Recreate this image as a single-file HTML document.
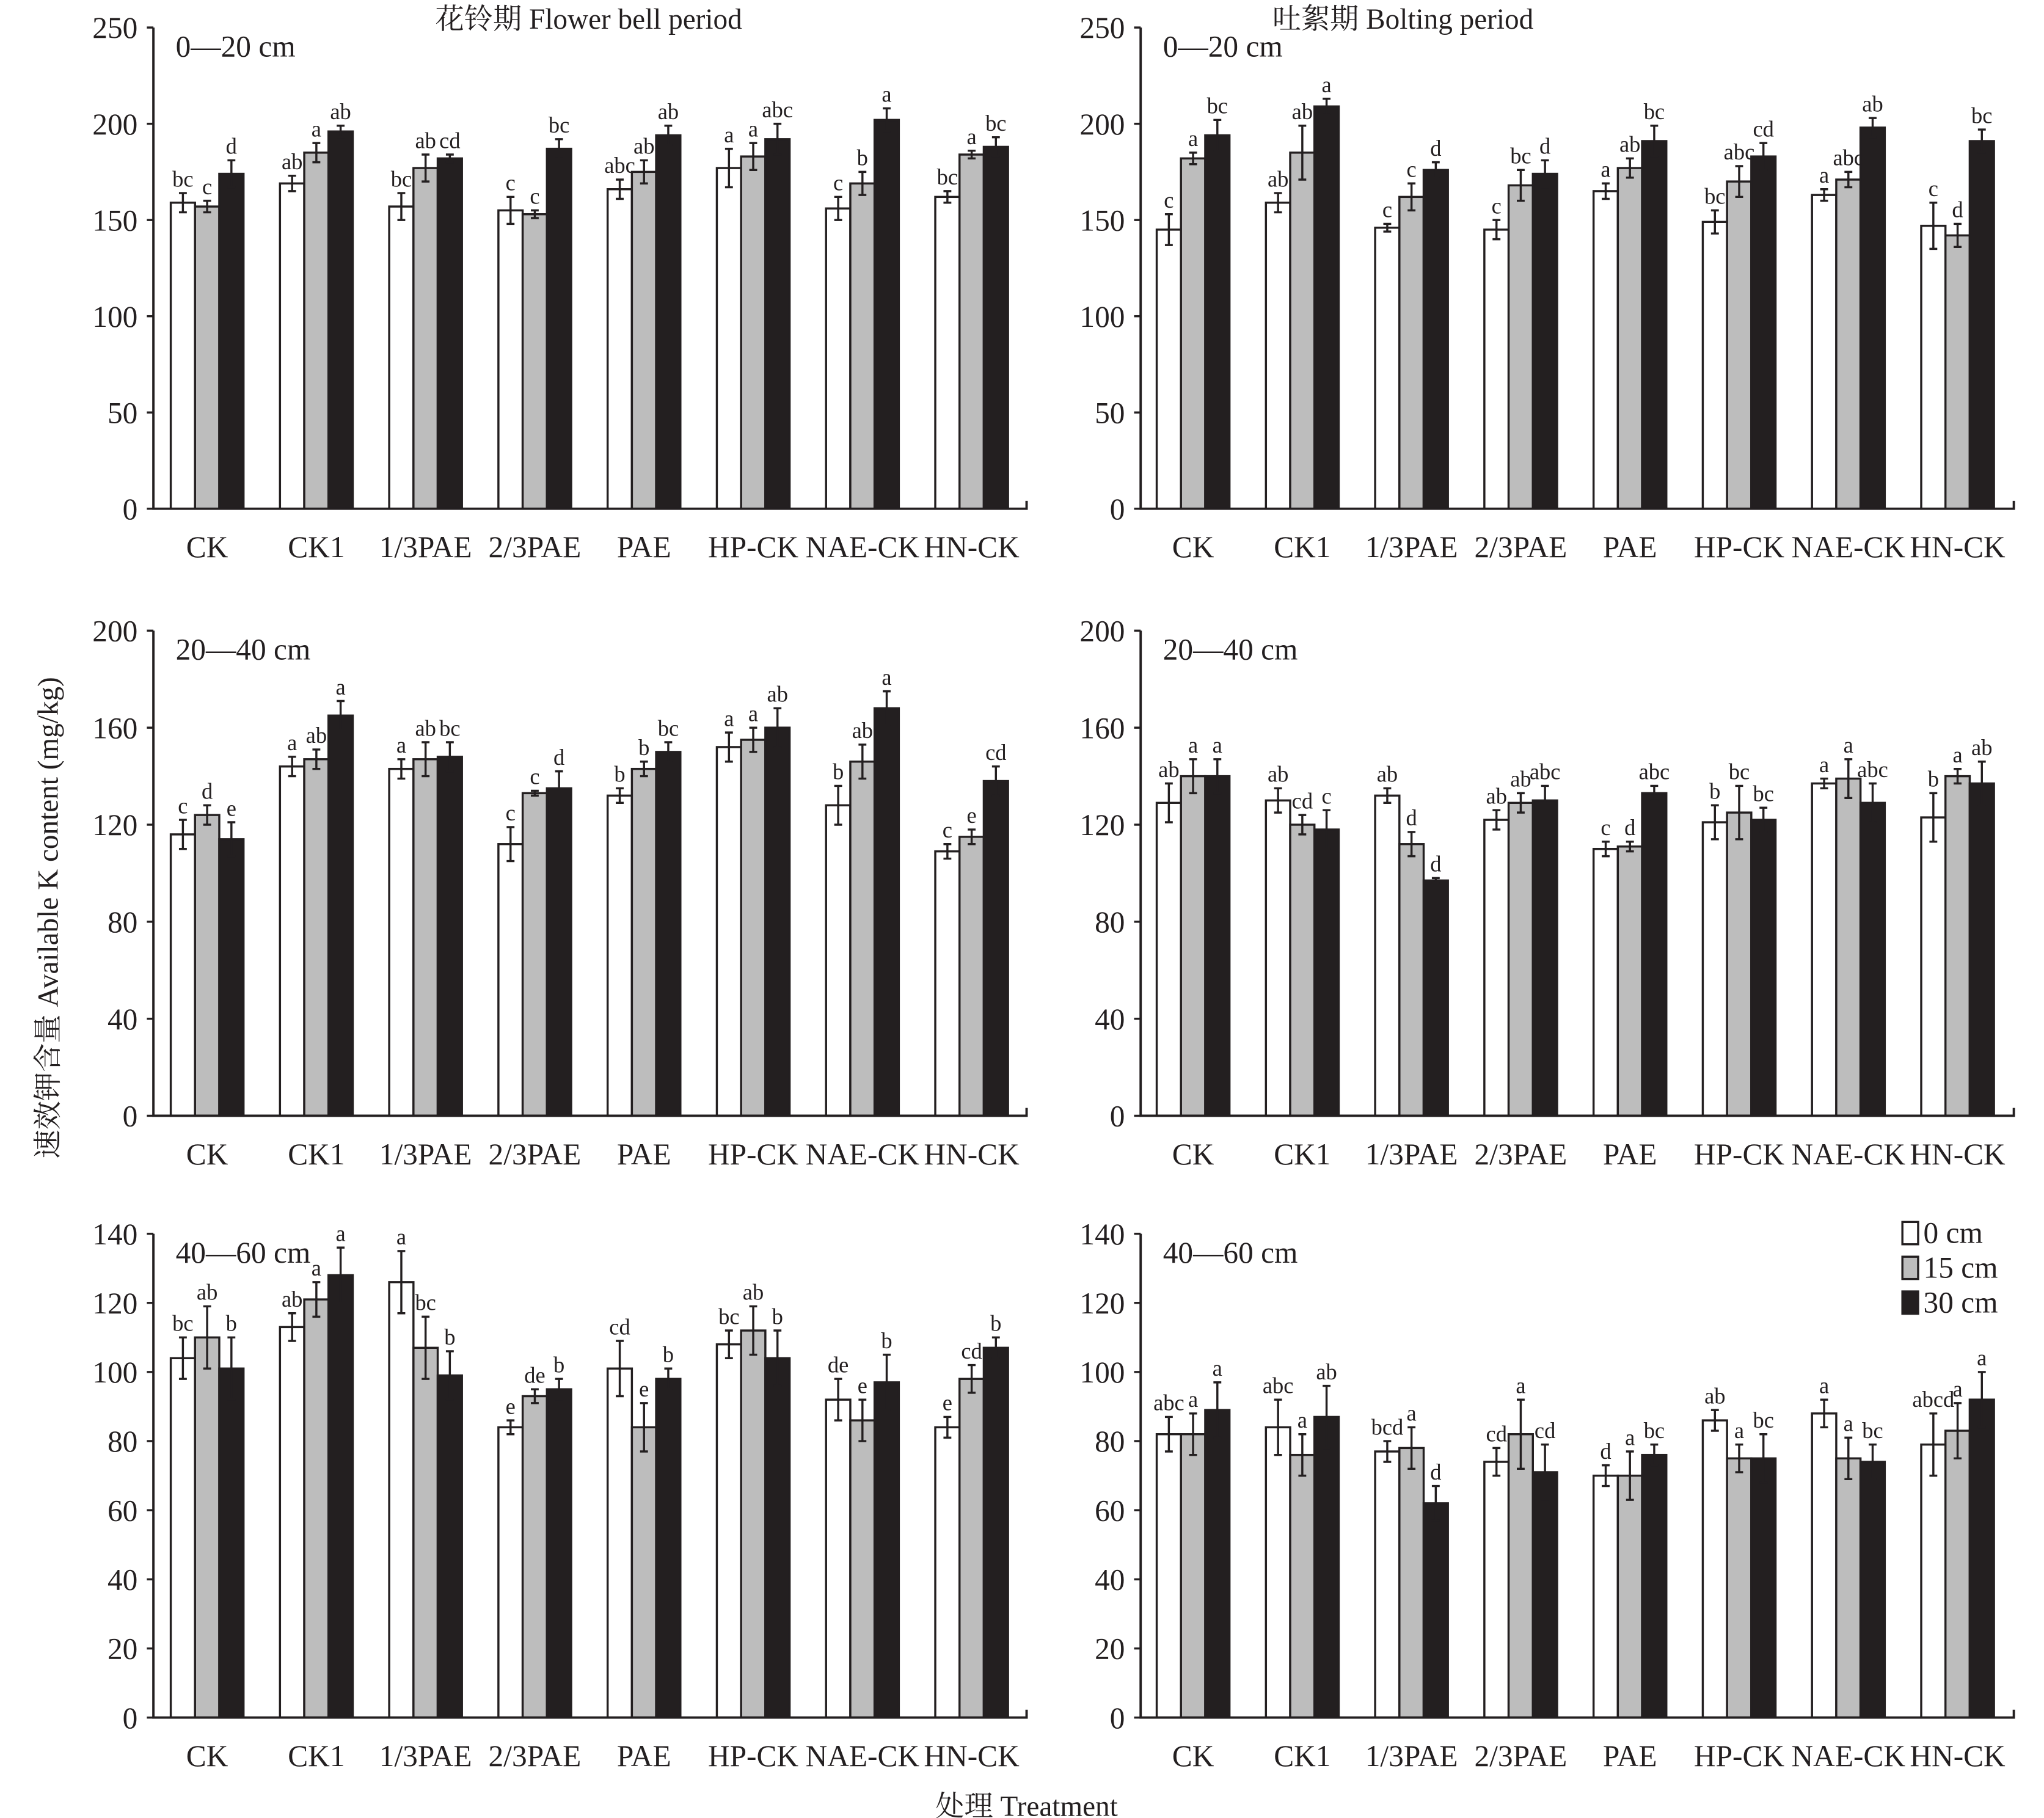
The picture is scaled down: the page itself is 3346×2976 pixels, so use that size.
<!DOCTYPE html>
<html><head><meta charset="utf-8"><style>
html,body{margin:0;padding:0;background:#fff;}
svg{display:block;}
text{font-family:"Liberation Serif","Noto Serif CJK SC",serif;fill:#231f20;}
</style></head><body>
<svg id="c" width="3346" height="2976" viewBox="0 0 1559 1386.6" preserveAspectRatio="none" xmlns="http://www.w3.org/2000/svg">
<text x="0" y="0" font-size="22" text-anchor="middle" transform="translate(44,700) rotate(-90)">速效钾含量 Available K content (mg/kg)</text>
<text x="783" y="1385" font-size="22" text-anchor="middle">处理 Treatment</text>
<text x="449" y="22" font-size="22" text-anchor="middle">花铃期 Flower bell period</text>
<text x="1070" y="22" font-size="22" text-anchor="middle">吐絮期 Bolting period</text>
</svg>
<script>
const categories=["CK","CK1","1/3PAE","2/3PAE","PAE","HP-CK","NAE-CK","HN-CK"];
const seriesNames=["0 cm","15 cm","30 cm"];
const fills=["#ffffff","#bdbdbd","#231f20"];
const fb0_20=[[159,157,174],[169,185,196],[157,177,182],[155,153,187],[166,175,194],[177,183,192],[156,169,202],[162,184,188]];
const fb0_20err=[[5,3,7],[4,5,3],[7,7,2],[7,2,5],[5,6,5],[10,7,8],[6,6,6],[3,2,5]];
const fb0_20lab=[["bc","c","d"],["ab","a","ab"],["bc","ab","cd"],["c","c","bc"],["abc","ab","ab"],["a","a","abc"],["c","b","a"],["bc","a","bc"]];
const bo0_20=[[145,182,194],[159,185,209],[146,162,176],[145,168,174],[165,177,191],[149,170,183],[163,171,198],[147,142,191]];
const bo0_20err=[[8,3,8],[5,14,4],[2,7,4],[5,8,7],[4,5,8],[6,8,7],[3,4,5],[12,6,6]];
const bo0_20lab=[["c","a","bc"],["ab","ab","a"],["c","c","d"],["c","bc","d"],["a","ab","bc"],["bc","abc","cd"],["a","abc","ab"],["c","d","bc"]];
const fb20_40=[[116,124,114],[144,147,165],[143,147,148],[112,133,135],[132,143,150],[152,155,160],[128,146,168],[109,115,138]];
const fb20_40err=[[6,4,7],[4,4,6],[4,7,6],[7,1,7],[3,3,4],[6,5,8],[8,7,7],[3,3,6]];
const fb20_40lab=[["c","d","e"],["a","ab","a"],["a","ab","bc"],["c","c","d"],["b","b","bc"],["a","a","ab"],["b","ab","a"],["c","e","cd"]];
const bo20_40=[[129,140,140],[130,120,118],[132,112,97],[122,129,130],[110,111,133],[121,125,122],[137,139,129],[123,140,137]];
const bo20_40err=[[8,7,7],[5,4,8],[3,5,1],[4,4,6],[3,2,3],[7,11,5],[2,8,8],[10,3,9]];
const bo20_40lab=[["ab","a","a"],["ab","cd","c"],["ab","d","d"],["ab","ab","abc"],["c","d","abc"],["b","bc","bc"],["a","a","abc"],["b","a","ab"]];
const fb40_60=[[104,110,101],[113,121,128],[126,107,99],[84,93,95],[101,84,98],[108,112,104],[92,86,97],[84,98,107]];
const fb40_60err=[[6,9,9],[4,5,8],[9,9,7],[2,2,3],[8,7,3],[4,7,8],[6,6,8],[3,4,3]];
const fb40_60lab=[["bc","ab","b"],["ab","a","a"],["a","bc","b"],["e","de","b"],["cd","e","b"],["bc","ab","b"],["de","e","b"],["e","cd","b"]];
const bo40_60=[[82,82,89],[84,76,87],[77,78,62],[74,82,71],[70,70,76],[86,75,75],[88,75,74],[79,83,92]];
const bo40_60err=[[5,6,8],[8,6,9],[3,6,5],[4,10,8],[3,7,3],[3,4,7],[4,6,5],[9,8,8]];
const bo40_60lab=[["abc","a","a"],["abc","a","ab"],["bcd","a","d"],["cd","a","cd"],["d","a","bc"],["ab","a","bc"],["a","a","bc"],["abcd","a","a"]];
const ticks250=[0,50,100,150,200,250];
const ticks200=[0,40,80,120,160,200];
const ticks140=[0,20,40,60,80,100,120,140];

const svg=document.getElementById('c');
const NS="http://www.w3.org/2000/svg";
function mk(t,a,p){const e=document.createElementNS(NS,t);for(const k in a)e.setAttribute(k,a[k]);(p||svg).appendChild(e);return e;}

function panel(name,x0,x1,c0,yb,yt,ticks,vals,errs,labs,depth){
  const g=mk('g',{});
  
  
  const max=ticks[ticks.length-1];
  const ys=v=>yb-(v/max)*(yb-yt);
  const step=83.3;
  const xc=i=>c0+step*i;
  const bw=18.5;
  vals.forEach((grp,i)=>{
    grp.forEach((v,s)=>{
      const bx=xc(i)-bw*1.5+s*bw;
      const r=mk('rect',{x:bx,y:ys(v),width:bw,height:yb-ys(v),fill:fills[s],stroke:'#231f20','stroke-width':1.6},g);
      
      
      const cx=bx+bw/2,e=errs[i][s];
      const el=mk('path',{d:`M${cx},${ys(v+e)}V${ys(v-e)}M${cx-3},${ys(v+e)}H${cx+3}M${cx-3},${ys(v-e)}H${cx+3}`,stroke:'#231f20','stroke-width':1.6,fill:'none'},g);
      
      
      const t=mk('text',{x:cx,y:ys(v+e)-5,'font-size':17,'text-anchor':'middle'},g);
      t.textContent=labs[i][s];
      
      
    });
    const ct=mk('text',{x:xc(i),y:yb+37,'font-size':23,'text-anchor':'middle'},g);
    ct.textContent=categories[i];
    
    
  });
  mk('path',{d:`M${x0},${yt}V${yb}H${x1}V${yb-6}`,stroke:'#231f20','stroke-width':1.8,fill:'none'},g);
  ticks.forEach(t=>{
    mk('path',{d:`M${x0-5},${ys(t)}H${x0}`,stroke:'#231f20','stroke-width':1.6},g);
    const tl=mk('text',{x:x0-12,y:ys(t)+8,'font-size':23,'text-anchor':'end'},g);
    tl.textContent=t;
    
    
  });
  const d=mk('text',{x:x0+17,y:yt+22,'font-size':23},g);
  d.textContent=depth;
  
  
}
const L0=117,L1=783,LC=158,R0=870,R1=1536,RC=910;
panel('panel-flower-0-20',L0,L1,LC,388,21,ticks250,fb0_20,fb0_20err,fb0_20lab,'0—20 cm');
panel('panel-bolting-0-20',R0,R1,RC,388,21,ticks250,bo0_20,bo0_20err,bo0_20lab,'0—20 cm');
panel('panel-flower-20-40',L0,L1,LC,851,481,ticks200,fb20_40,fb20_40err,fb20_40lab,'20—40 cm');
panel('panel-bolting-20-40',R0,R1,RC,851,481,ticks200,bo20_40,bo20_40err,bo20_40lab,'20—40 cm');
panel('panel-flower-40-60',L0,L1,LC,1310,941,ticks140,fb40_60,fb40_60err,fb40_60lab,'40—60 cm');
panel('panel-bolting-40-60',R0,R1,RC,1310,941,ticks140,bo40_60,bo40_60err,bo40_60lab,'40—60 cm');
const lg=mk('g',{});


seriesNames.forEach((n,s)=>{
  const y=932+s*26.5;
  mk('rect',{x:1451,y:y,width:12,height:17,fill:fills[s],stroke:'#231f20','stroke-width':1.6},lg);
  const t=mk('text',{x:1467,y:y+16,'font-size':23},lg);
  t.textContent=n;
  
  
});
</script>
</body></html>
